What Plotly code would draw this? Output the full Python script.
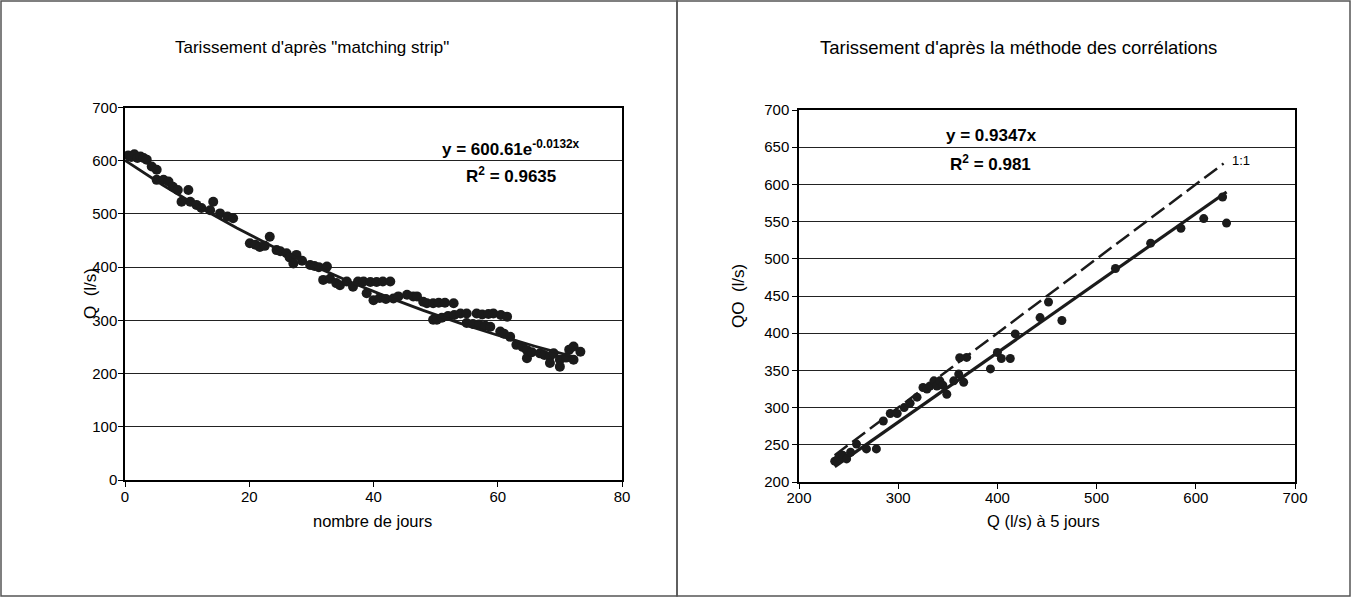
import plotly.graph_objects as go

# ---------------- data ----------------
# Left panel: recession "matching strip" (day, Q l/s)
days = [0.5, 1, 1.5, 2, 2.5, 3, 3.5, 4.3, 5.1, 5.1, 6.2, 7, 7.7, 8.5, 9.1, 10.2, 10.5, 11.5,
        12.3, 13.7, 14.2, 15.3, 16.5, 17.4, 20.1, 21, 21.7, 22.5, 23.3, 24.4, 25, 26, 26.5,
        27.1, 27.6, 28.5, 29.8, 30.5, 31.2, 31.9, 32.5, 33, 34, 34.6, 35.7, 36.7, 37.5, 38.4,
        39.5, 40.5, 41.5, 42.7, 38.9, 40, 41, 42, 43.2, 44, 45.4, 46.4, 47, 48, 48.6, 49.6,
        50.5, 51.5, 52.9, 49.6, 50.2, 51, 52, 53, 54, 55, 56.6, 57.5, 58.5, 59.3, 60.5, 61.5,
        55, 56, 57, 58, 58.8, 60.4, 61, 62, 63, 64, 64.7, 64.7, 65.5, 66.8, 67.5, 68.4, 68.4,
        69, 70, 70, 71, 71.5, 72.2, 72.2, 73.3]
q_strip = [610, 607, 612, 605, 608, 605, 602, 589, 583, 564, 564, 561, 551, 545, 523, 545, 523, 517,
           511, 507, 523, 501, 495, 492, 445, 442, 438, 440, 457, 432, 430, 426, 418,
           407, 423, 412, 404, 402, 400, 376, 401, 378, 370, 366, 373, 363, 373, 373,
           372, 372, 373, 373, 351, 338, 342, 340, 341, 345, 348, 345, 345, 335, 332, 332,
           333, 333, 332, 301, 301, 305, 308, 310, 313, 313, 313, 311, 312, 313, 310, 307,
           295, 293, 292, 290, 288, 279, 275, 269, 254, 250, 244, 229, 240, 238, 235, 232, 220,
           238, 226, 213, 230, 245, 251, 226, 241]

# Exponential trendline coefficients (as printed on the chart)
exp_a = 600.61
exp_b = -0.0132
trend_days = [0, 6, 12, 18, 24, 30, 36, 42, 48, 54, 60, 66, 72]

# Right panel: correlation method (Q at 5 days, Q0)
q5 = [236, 240, 244, 248, 252, 258, 268, 278, 285, 292, 299, 306, 312, 319, 325, 329, 332, 336,
      339, 342, 345, 349, 356, 361, 366, 369, 362, 393, 400, 404, 413, 418, 443, 451.5, 465,
      519, 554.5, 585, 608, 627, 631]
q0 = [228, 233, 236, 231, 240, 251, 244.5, 244.5, 282, 292, 292, 300, 306, 314, 327, 325, 329, 336,
      329, 336, 330, 318, 336, 345, 334, 367.5, 367, 352, 374, 366, 366, 399, 421, 442, 417,
      487, 521, 541, 554, 583, 548]
lin_slope = 0.9347
lin_x = [236, 631]
one_x = [236, 628]

FONT = "Liberation Sans, Arial, sans-serif"
INK = "#1b1b1b"

fig = go.Figure()

# left panel
fig.add_trace(go.Scatter(x=days, y=q_strip, mode="markers",
                         marker=dict(size=10, color=INK), xaxis="x", yaxis="y",
                         showlegend=False))
fig.add_trace(go.Scatter(x=trend_days, y=[exp_a * (2.718281828459045 ** (exp_b * d)) for d in trend_days],
                         mode="lines", line=dict(color=INK, width=2.8), xaxis="x", yaxis="y",
                         showlegend=False))

# right panel
fig.add_trace(go.Scatter(x=one_x, y=one_x, mode="lines",
                         line=dict(color=INK, width=2.5, dash="16px,6px"),
                         xaxis="x2", yaxis="y2", showlegend=False))
fig.add_trace(go.Scatter(x=lin_x, y=[lin_slope * v for v in lin_x], mode="lines",
                         line=dict(color=INK, width=3.2), xaxis="x2", yaxis="y2",
                         showlegend=False))
fig.add_trace(go.Scatter(x=q5, y=q0, mode="markers",
                         marker=dict(size=9, color=INK), xaxis="x2", yaxis="y2",
                         showlegend=False))

W, H = 1356, 598
def px(xp):
    return xp / W
def py(yp):
    return 1 - yp / H

axis_common = dict(showline=True, linecolor="#000", linewidth=1.5, mirror=True,
                   ticks="outside", ticklen=5, tickcolor="#000", automargin=False,
                   tickfont=dict(family=FONT, size=15, color="#000"),
                   zeroline=False, fixedrange=True)

fig.update_layout(
    width=W, height=H, autosize=False,
    margin=dict(l=0, r=0, t=0, b=0, pad=0),
    paper_bgcolor="white", plot_bgcolor="white", showlegend=False,
    xaxis=dict(domain=[px(125), px(622)], range=[0, 80], dtick=20, showgrid=False,
               anchor="y", ticklabelstandoff=-3, **axis_common),
    yaxis=dict(domain=[py(480), py(107.5)], range=[0, 700], dtick=100, showgrid=True,
               gridcolor="#222", gridwidth=1, anchor="x", ticklabelstandoff=-2, **axis_common),
    xaxis2=dict(domain=[px(799), px(1295)], range=[200, 700], dtick=100, showgrid=False,
                anchor="y2", ticklabelstandoff=-4, **axis_common),
    yaxis2=dict(domain=[py(482), py(110)], range=[200, 700], dtick=50, showgrid=True,
                gridcolor="#222", gridwidth=1, anchor="x2", **axis_common),
)

# panel frames
fig.add_shape(type="rect", xref="paper", yref="paper", x0=px(1), x1=px(677), y0=py(596), y1=py(1),
              line=dict(color="#555", width=1.5))
fig.add_shape(type="rect", xref="paper", yref="paper", x0=px(677), x1=px(1350), y0=py(596), y1=py(1),
              line=dict(color="#555", width=1.5))

def ann(text, x, y, size=14, angle=0, bold=False):
    fig.add_annotation(text=f"<b>{text}</b>" if bold else text, x=px(x), y=py(y),
                       xref="paper", yref="paper", showarrow=False, textangle=angle,
                       font=dict(family=FONT, size=size, color="#000"),
                       xanchor="center", yanchor="middle")

ann('Tarissement d\'après "matching strip"', 312, 47, size=17)
ann("Tarissement d'après la méthode des corrélations", 1018, 47, size=18.5)
ann("Q  (l/s)", 90, 294, size=17, angle=-90)
ann("nombre de jours", 372, 521, size=16.5)
ann("QO  (l/s)", 738, 296, size=17, angle=-90)
ann("Q (l/s) à 5 jours", 1043, 521, size=16.5)
ann("y = 600.61e<sup>-0.0132x</sup>", 511, 148, size=17, bold=True)
ann("R<sup>2</sup> = 0.9635", 511, 175, size=17, bold=True)
ann("y = 0.9347x", 991, 136, size=17, bold=True)
ann("R<sup>2</sup> = 0.981", 990, 163, size=17, bold=True)
ann("1:1", 1241, 160, size=13)

fig.write_html("out.html", config={"displayModeBar": False},
               post_script="document.body.style.margin='0';document.body.style.overflow='hidden';")
